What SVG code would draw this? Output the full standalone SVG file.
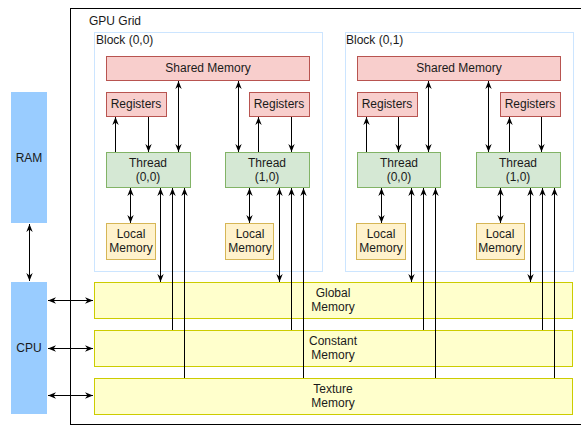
<svg xmlns="http://www.w3.org/2000/svg" width="581" height="426" viewBox="0 0 581 426">
<style>
text{font-family:"Liberation Sans",Arial,sans-serif;font-size:12px;fill:#1a1a1a;text-anchor:middle}
.lbl{text-anchor:start}
.grid{fill:#fff;stroke:#000;stroke-width:1}
.blk{fill:#fff;stroke:#cce5ff;stroke-width:1}
.red{fill:#f8cecc;stroke:#b85450}
.grn{fill:#d5e8d4;stroke:#82b366}
.loc{fill:#fff2cc;stroke:#d6b656}
.mem{fill:#ffffcc;stroke:#cccc00}
.blue{fill:#99ccff;stroke:none}
.c path{fill:none;stroke:#000;stroke-width:1}
</style>
<defs>
<marker id="a" viewBox="0 0 10 10" refX="10" refY="5" markerWidth="8" markerHeight="8" markerUnits="userSpaceOnUse" orient="auto-start-reverse">
<path d="M0,1 L10,5 L0,9 L3,5 Z" fill="#000"/>
</marker>
</defs>
<rect x="0" y="0" width="581" height="426" fill="#fff"/>
<g id="gpu-grid"><rect class="grid" x="70.5" y="8.5" width="520" height="416"/><text class="lbl" x="89" y="25">GPU Grid</text></g>
<g id="block00"><rect class="blk" x="94.5" y="32.5" width="228" height="239"/><text class="lbl" x="96" y="44">Block (0,0)</text></g>
<g id="block01"><rect class="blk" x="345.5" y="32.5" width="228" height="239"/><text class="lbl" x="346" y="44">Block (0,1)</text></g>
<g id="ram"><rect class="blue" x="11" y="92" width="36" height="131"/><text x="29" y="162">RAM</text></g>
<g id="cpu"><rect class="blue" x="11" y="282" width="36" height="132"/><text x="29" y="352">CPU</text></g>
<g id="shared0"><rect class="red" x="106.5" y="56.5" width="203" height="24"/><text x="208" y="72">Shared Memory</text></g>
<g id="shared1"><rect class="red" x="357.5" y="56.5" width="203" height="24"/><text x="459" y="72">Shared Memory</text></g>
<g id="reg00"><rect class="red" x="106.5" y="92.5" width="60" height="24"/><text x="136" y="108">Registers</text></g>
<g id="reg01"><rect class="red" x="249.5" y="92.5" width="60" height="24"/><text x="279" y="108">Registers</text></g>
<g id="reg10"><rect class="red" x="357.5" y="92.5" width="60" height="24"/><text x="387" y="108">Registers</text></g>
<g id="reg11"><rect class="red" x="500.5" y="92.5" width="60" height="24"/><text x="530" y="108">Registers</text></g>
<g id="thr00"><rect class="grn" x="106.5" y="152.5" width="84" height="35"/><text x="148" y="167">Thread</text><text x="148" y="181">(0,0)</text></g>
<g id="thr01"><rect class="grn" x="225.5" y="152.5" width="84" height="35"/><text x="267" y="167">Thread</text><text x="267" y="181">(1,0)</text></g>
<g id="thr10"><rect class="grn" x="357.5" y="152.5" width="83" height="35"/><text x="399" y="167">Thread</text><text x="399" y="181">(0,0)</text></g>
<g id="thr11"><rect class="grn" x="476.5" y="152.5" width="84" height="35"/><text x="518" y="167">Thread</text><text x="518" y="181">(1,0)</text></g>
<g id="loc00"><rect class="loc" x="106.5" y="223.5" width="49" height="36"/><text x="131" y="238">Local</text><text x="131" y="252">Memory</text></g>
<g id="loc01"><rect class="loc" x="225.5" y="223.5" width="48" height="36"/><text x="250" y="238">Local</text><text x="250" y="252">Memory</text></g>
<g id="loc10"><rect class="loc" x="356.5" y="223.5" width="49" height="36"/><text x="381" y="238">Local</text><text x="381" y="252">Memory</text></g>
<g id="loc11"><rect class="loc" x="476.5" y="223.5" width="48" height="36"/><text x="500" y="238">Local</text><text x="500" y="252">Memory</text></g>
<g id="global"><rect class="mem" x="94.5" y="282.5" width="478" height="36"/><text x="333" y="297">Global</text><text x="333" y="311">Memory</text></g>
<g id="constant"><rect class="mem" x="94.5" y="330.5" width="478" height="36"/><text x="333" y="345">Constant</text><text x="333" y="359">Memory</text></g>
<g id="texture"><rect class="mem" x="94.5" y="378.5" width="478" height="36"/><text x="333" y="393">Texture</text><text x="333" y="407">Memory</text></g>
<g id="connectors" class="c">
<path d="M29.5,224 V281" marker-start="url(#a)" marker-end="url(#a)"/>
<path d="M48,300.5 H93" marker-start="url(#a)" marker-end="url(#a)"/>
<path d="M48,348.5 H93" marker-start="url(#a)" marker-end="url(#a)"/>
<path d="M48,395.5 H93" marker-start="url(#a)" marker-end="url(#a)"/>
<path d="M115.5,152 V117" marker-end="url(#a)"/>
<path d="M148.5,117 V152" marker-end="url(#a)"/>
<path d="M178.5,81 V152" marker-start="url(#a)" marker-end="url(#a)"/>
<path d="M130.5,188 V223" marker-start="url(#a)" marker-end="url(#a)"/>
<path d="M160.5,188 V282" marker-start="url(#a)" marker-end="url(#a)"/>
<path d="M172.5,330 V188" marker-end="url(#a)"/>
<path d="M184.5,378 V188" marker-end="url(#a)"/>
<path d="M258.5,152 V117" marker-end="url(#a)"/>
<path d="M291.5,117 V152" marker-end="url(#a)"/>
<path d="M238.5,81 V152" marker-start="url(#a)" marker-end="url(#a)"/>
<path d="M249.5,188 V223" marker-start="url(#a)" marker-end="url(#a)"/>
<path d="M279.5,188 V282" marker-start="url(#a)" marker-end="url(#a)"/>
<path d="M291.5,330 V188" marker-end="url(#a)"/>
<path d="M303.5,378 V188" marker-end="url(#a)"/>
<path d="M366.5,152 V117" marker-end="url(#a)"/>
<path d="M398.5,117 V152" marker-end="url(#a)"/>
<path d="M428.5,81 V152" marker-start="url(#a)" marker-end="url(#a)"/>
<path d="M381.5,188 V223" marker-start="url(#a)" marker-end="url(#a)"/>
<path d="M411.5,188 V282" marker-start="url(#a)" marker-end="url(#a)"/>
<path d="M423.5,330 V188" marker-end="url(#a)"/>
<path d="M435.5,378 V188" marker-end="url(#a)"/>
<path d="M509.5,152 V117" marker-end="url(#a)"/>
<path d="M541.5,117 V152" marker-end="url(#a)"/>
<path d="M488.5,81 V152" marker-start="url(#a)" marker-end="url(#a)"/>
<path d="M500.5,188 V223" marker-start="url(#a)" marker-end="url(#a)"/>
<path d="M530.5,188 V282" marker-start="url(#a)" marker-end="url(#a)"/>
<path d="M542.5,330 V188" marker-end="url(#a)"/>
<path d="M554.5,378 V188" marker-end="url(#a)"/>
</g>
</svg>
